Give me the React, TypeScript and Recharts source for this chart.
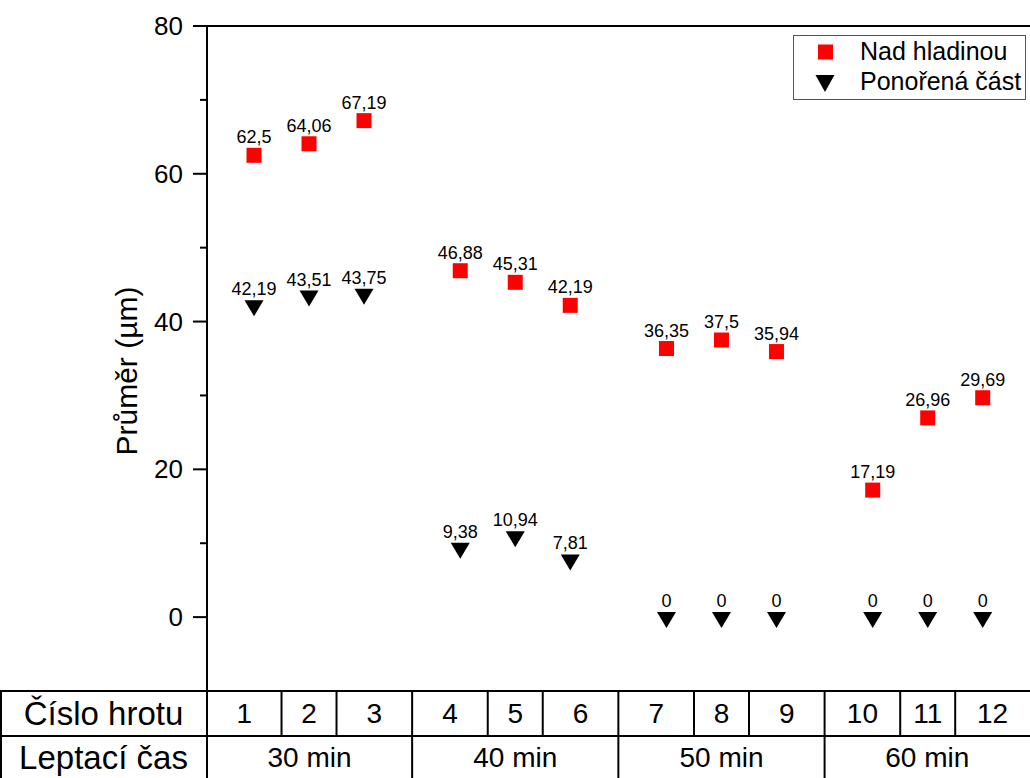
import React from 'react'
import { Legend, ReferenceLine, Scatter, ScatterChart, XAxis, YAxis } from 'recharts'

const TIP_NUMBERS = [1, 2, 3, 4, 5, 6, 7, 8, 9, 10, 11, 12]
const ETCH_TIMES = ['30 min', '40 min', '50 min', '60 min']
const ABOVE_SURFACE = [62.5, 64.06, 67.19, 46.88, 45.31, 42.19, 36.35, 37.5, 35.94, 17.19, 26.96, 29.69]
const SUBMERGED = [42.19, 43.51, 43.75, 9.38, 10.94, 7.81, 0, 0, 0, 0, 0, 0]
const Y_TICKS = [0, 10, 20, 30, 40, 50, 60, 70, 80]
const Y_TICKS_MAJOR = [0, 20, 40, 60, 80]

const FONT = '"Liberation Sans", Arial, Helvetica, sans-serif'
const WIDTH = 1030
const HEIGHT = 778
const PLOT = { left: 207, top: 26, right: 1030, bottom: 691 }
const X_DOMAIN: [number, number] = [0.145, 15.11]
const Y_DOMAIN: [number, number] = [-10, 80]
const Y_AXIS_WIDTH = 60

// three tips per etching time, with a wider gap between the groups
const tipPos = (n: number) => n + 0.75 * Math.floor((n - 1) / 3)

const aboveData = TIP_NUMBERS.map((n, i) => ({ pos: tipPos(n), value: ABOVE_SURFACE[i] }))
const submergedData = TIP_NUMBERS.map((n, i) => ({ pos: tipPos(n), value: SUBMERGED[i] }))

const xPx = (v: number) =>
  PLOT.left + ((v - X_DOMAIN[0]) / (X_DOMAIN[1] - X_DOMAIN[0])) * (PLOT.right - PLOT.left)

const fmt = (v: number) => String(v).replace('.', ',')

function SquareMark(props: any) {
  const { cx, cy, payload } = props
  return (
    <g>
      <rect x={cx - 7.5} y={cy - 7.5} width={15} height={15} fill="#ff0000" />
      <text x={cx} y={cy - 12} textAnchor="middle" fontSize={18} fontFamily={FONT} fill="#000">
        {fmt(payload.value)}
      </text>
    </g>
  )
}

function TriangleMark(props: any) {
  const { cx, cy, payload } = props
  return (
    <g>
      <path d={`M${cx - 9.5},${cy - 5} L${cx + 9.5},${cy - 5} L${cx},${cy + 11} Z`} fill="#000" />
      <text x={cx} y={cy - 10} textAnchor="middle" fontSize={18} fontFamily={FONT} fill="#000">
        {fmt(payload.value)}
      </text>
    </g>
  )
}

function YTick(props: any) {
  const { x, y, payload } = props
  const major = Y_TICKS_MAJOR.includes(payload.value)
  return (
    <g>
      <line x1={x - (major ? 14 : 7)} x2={x} y1={y} y2={y} stroke="#000" strokeWidth={2} />
      {major && (
        <text x={x - 24} y={y} dy="0.35em" textAnchor="end" fontSize={26} fontFamily={FONT} fill="#000">
          {payload.value}
        </text>
      )}
    </g>
  )
}

function YTitle() {
  return (
    <text
      x={137}
      y={371}
      transform="rotate(-90, 137, 371)"
      textAnchor="middle"
      fontSize={30}
      fontFamily={FONT}
      fill="#000"
    >
      Průměr (µm)
    </text>
  )
}

function LegendBox() {
  return (
    <svg width={233} height={65} style={{ display: 'block' }}>
      <rect x={0.5} y={0.5} width={232} height={64} fill="#fff" stroke="#555" strokeWidth={1} />
      <rect x={25} y={9.5} width={15} height={15} fill="#ff0000" />
      <text x={67} y={16} dy="0.35em" fontSize={25} fontFamily={FONT} fill="#000">
        Nad hladinou
      </text>
      <path d="M22.5,40 L41.5,40 L32,57 Z" fill="#000" />
      <text x={67} y={46} dy="0.35em" fontSize={25} fontFamily={FONT} fill="#000">
        Ponořená část
      </text>
    </svg>
  )
}

function TipTable() {
  const centers = TIP_NUMBERS.map((n) => xPx(tipPos(n)))
  const bounds = [PLOT.left]
  for (let i = 0; i < centers.length - 1; i++) bounds.push((centers[i] + centers[i + 1]) / 2)
  bounds.push(WIDTH)
  const groupBounds = [0, 3, 6, 9, 12].map((i) => bounds[i])
  const top = PLOT.bottom
  const mid = 736
  const bottom = HEIGHT
  const row1 = (top + mid) / 2
  const row2 = (mid + bottom) / 2
  return (
    <svg
      width={WIDTH}
      height={HEIGHT}
      style={{ position: 'absolute', left: 0, top: 0, pointerEvents: 'none' }}
    >
      <line x1={0} x2={WIDTH} y1={top} y2={top} stroke="#000" strokeWidth={2} />
      <line x1={0} x2={WIDTH} y1={mid} y2={mid} stroke="#000" strokeWidth={2} />
      <line x1={1} x2={1} y1={top} y2={bottom} stroke="#000" strokeWidth={2} />
      {bounds.slice(0, -1).map((b, i) => (
        <line
          key={`b${i}`}
          x1={b}
          x2={b}
          y1={top}
          y2={i % 3 === 0 ? bottom : mid}
          stroke="#000"
          strokeWidth={2}
        />
      ))}
      <text x={PLOT.left / 2} y={row1} dy="0.35em" textAnchor="middle" fontSize={33} fontFamily={FONT}>
        Číslo hrotu
      </text>
      <text x={PLOT.left / 2} y={row2} dy="0.35em" textAnchor="middle" fontSize={33} fontFamily={FONT}>
        Leptací čas
      </text>
      {TIP_NUMBERS.map((n, i) => (
        <text
          key={`t${n}`}
          x={(bounds[i] + bounds[i + 1]) / 2}
          y={row1}
          dy="0.35em"
          textAnchor="middle"
          fontSize={28}
          fontFamily={FONT}
        >
          {n}
        </text>
      ))}
      {ETCH_TIMES.map((t, g) => (
        <text
          key={t}
          x={(groupBounds[g] + groupBounds[g + 1]) / 2}
          y={row2}
          dy="0.35em"
          textAnchor="middle"
          fontSize={28}
          fontFamily={FONT}
        >
          {t}
        </text>
      ))}
    </svg>
  )
}

export default function App() {
  return (
    <div style={{ position: 'absolute', left: 0, top: 0, width: WIDTH, height: HEIGHT, background: '#fff' }}>
      <ScatterChart
        width={WIDTH}
        height={HEIGHT}
        margin={{ top: PLOT.top, right: WIDTH - PLOT.right, bottom: HEIGHT - PLOT.bottom, left: PLOT.left - Y_AXIS_WIDTH }}
      >
        <XAxis type="number" dataKey="pos" domain={X_DOMAIN} allowDataOverflow hide />
        <YAxis
          type="number"
          dataKey="value"
          domain={Y_DOMAIN}
          ticks={Y_TICKS}
          interval={0}
          width={Y_AXIS_WIDTH}
          allowDataOverflow
          tickLine={false}
          tickSize={0}
          tickMargin={0}
          tick={<YTick />}
          axisLine={{ stroke: '#000', strokeWidth: 2 }}
          label={<YTitle />}
        />
        <ReferenceLine y={80} stroke="#000" strokeWidth={2} />
        <Legend
          layout="vertical"
          align="center"
          verticalAlign="middle"
          wrapperStyle={{ left: 793, top: 35, width: 233 }}
          content={<LegendBox />}
        />
        <Scatter name="Nad hladinou" data={aboveData} fill="#ff0000" shape={<SquareMark />} isAnimationActive={false} />
        <Scatter name="Ponořená část" data={submergedData} fill="#000" shape={<TriangleMark />} isAnimationActive={false} />
      </ScatterChart>
      <TipTable />
    </div>
  )
}
